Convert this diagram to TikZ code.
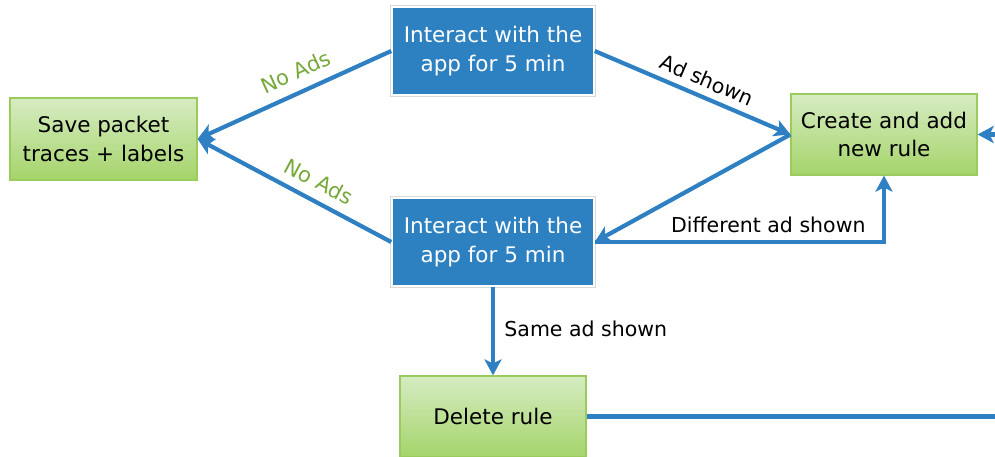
\documentclass[tikz,border=0pt]{standalone}
\usepackage{fontspec}
\setmainfont{DejaVu Sans}
\usetikzlibrary{arrows.meta}
\definecolor{boxblue}{HTML}{2E81C1}
\definecolor{linkblue}{HTML}{2F80C2}
\definecolor{greentop}{HTML}{D6ECC2}
\definecolor{greenbot}{HTML}{A5D46A}
\definecolor{greenline}{HTML}{9ACB5C}
\definecolor{labgreen}{HTML}{76A83A}
\begin{document}
\begin{tikzpicture}[x=1pt,y=-1pt,
  boxfont/.style={font=\fontsize{21.5}{28.5}\selectfont},
  bluebox/.style={rectangle, boxfont, fill=boxblue, text=white,
    minimum width=202pt, minimum height=88pt, align=center,
    draw=white, line width=1.5pt, preaction={draw=black!15, line width=3.5pt}},
  greenbox/.style={rectangle, boxfont, top color=greentop, bottom color=greenbot,
    draw=greenline, line width=1.2pt, align=center},
  link/.style={draw=linkblue, line width=4.2pt,
    -{Stealth[length=16pt,width=17pt,inset=4pt]}},
  plainlink/.style={draw=linkblue, line width=4.2pt},
  lab/.style={font=\fontsize{20.5}{24}\selectfont, text=black},
  nolab/.style={font=\fontsize{21}{24}\selectfont, text=labgreen},
]
\useasboundingbox (0,0) rectangle (995,457);

% boxes
\node[bluebox] (b1) at (493,51) {Interact with the\\app for 5 min};
\node[bluebox] (b2) at (493,242) {Interact with the\\app for 5 min};
\node[greenbox, minimum width=187pt, minimum height=82pt] (save) at (103.5,139) {Save packet\\traces + labels};
\node[greenbox, minimum width=186pt, minimum height=81pt] (create) at (884,134.5) {Create and add\\new rule};
\node[greenbox, minimum width=186pt, minimum height=81pt] (del) at (493,416.5) {Delete rule};

% loose ends at the right border
\coordinate (inR) at (995,134.5);
\coordinate (outR) at (995,416.5);

% connectors
\draw[link] (b1.west) -- node[pos=0.45, sloped, above=7pt, nolab] {No Ads} (save.east);
\draw[link] (b2.west) -- node[pos=0.42, sloped, above=6pt, nolab] {No Ads} (save.east);
\draw[link] (b1.east) -- node[pos=0.54, sloped, above=4pt, lab] {Ad shown} (create.west);
\draw[link] (create.west) -- (b2.east);
\draw[link] (b2.east) -| node[pos=0.3, above=4pt, lab] {Different ad shown} (create.south);
\draw[link] (b2.south) -- node[pos=0.47, right=6pt, lab] {Same ad shown} (del.north);
\draw[link] (inR) -- (create.east);
\draw[plainlink] (del.east) -- (outR);
\end{tikzpicture}
\end{document}
